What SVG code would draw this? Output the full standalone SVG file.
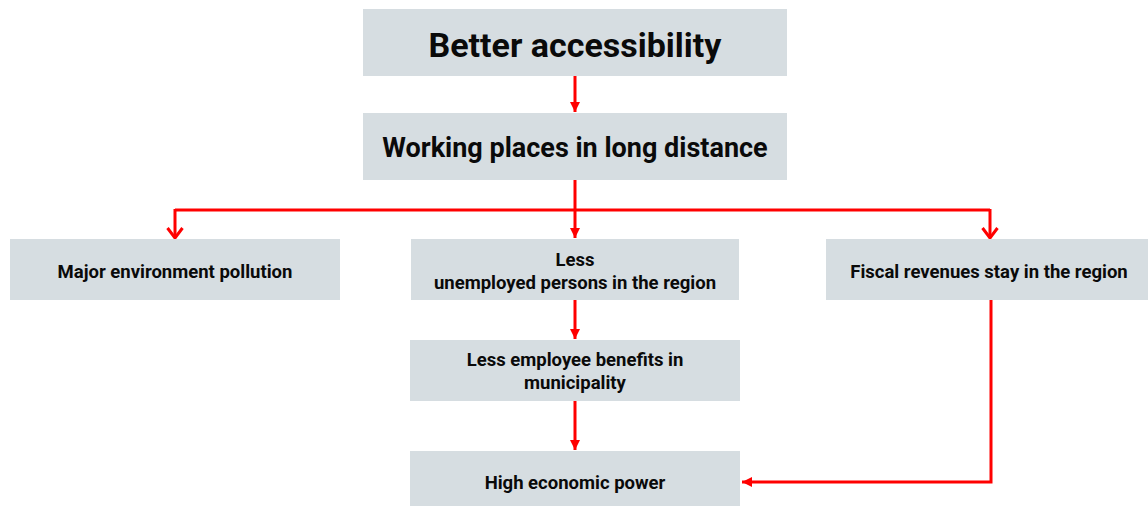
<svg xmlns="http://www.w3.org/2000/svg" width="1148" height="506" viewBox="0 0 1148 506">
  <style>
    .box { fill: #d6dde1; }
    .lbl { font-family: Roboto, "Liberation Sans", sans-serif; font-weight: bold; fill: #0a0a0a; text-anchor: middle; }
    .big { font-size: 34px; }
    .mid { font-size: 27px; }
    .sm { font-size: 18.5px; }
    .wire { fill: none; stroke: #ff0000; stroke-width: 3; }
  </style>
  <defs>
    <marker id="tri" markerWidth="10" markerHeight="10" refX="10" refY="5" orient="auto" markerUnits="userSpaceOnUse">
      <path d="M0,0 L10,5 L0,10 Z" fill="#ff0000"/>
    </marker>
    <marker id="vee" markerWidth="14" markerHeight="18" refX="12" refY="9" orient="auto" markerUnits="userSpaceOnUse">
      <path d="M2,1.5 L12,9 L2,16.5" fill="none" stroke="#ff0000" stroke-width="3"/>
    </marker>
  </defs>

  <!-- connectors -->
  <g id="connectors">
    <path class="wire" d="M575,76 V112" marker-end="url(#tri)"/>
    <path class="wire" d="M575,180 V238" marker-end="url(#tri)"/>
    <path class="wire" d="M175,210 H990"/>
    <path class="wire" d="M175,209 V238" marker-end="url(#vee)"/>
    <path class="wire" d="M990,209 V238" marker-end="url(#vee)"/>
    <path class="wire" d="M575,300 V339" marker-end="url(#tri)"/>
    <path class="wire" d="M575,401 V450" marker-end="url(#tri)"/>
    <path class="wire" d="M991,300 V482 H742" marker-end="url(#tri)"/>
  </g>

  <!-- nodes -->
  <g id="better-accessibility">
    <rect class="box" x="363" y="9" width="424" height="67"/>
    <text class="lbl big" x="575" y="57">Better accessibility</text>
  </g>
  <g id="working-places">
    <rect class="box" x="363" y="113" width="424" height="67"/>
    <text class="lbl mid" x="575" y="156.5">Working places in long distance</text>
  </g>
  <g id="environment-pollution">
    <rect class="box" x="10" y="239" width="330" height="61"/>
    <text class="lbl sm" x="175" y="277.5">Major environment pollution</text>
  </g>
  <g id="less-unemployed">
    <rect class="box" x="411" y="239" width="328" height="61"/>
    <text class="lbl sm" x="575" y="265.5">Less</text>
    <text class="lbl sm" x="575" y="288.5">unemployed persons in the region</text>
  </g>
  <g id="fiscal-revenues">
    <rect class="box" x="826" y="239" width="322" height="61"/>
    <text class="lbl sm" x="989" y="277.5">Fiscal revenues stay in the region</text>
  </g>
  <g id="employee-benefits">
    <rect class="box" x="410" y="340" width="330" height="61"/>
    <text class="lbl sm" x="575" y="365.5">Less employee benefits in</text>
    <text class="lbl sm" x="575" y="388.5">municipality</text>
  </g>
  <g id="economic-power">
    <rect class="box" x="410" y="451" width="330" height="55"/>
    <text class="lbl sm" x="575" y="488.5">High economic power</text>
  </g>
</svg>
